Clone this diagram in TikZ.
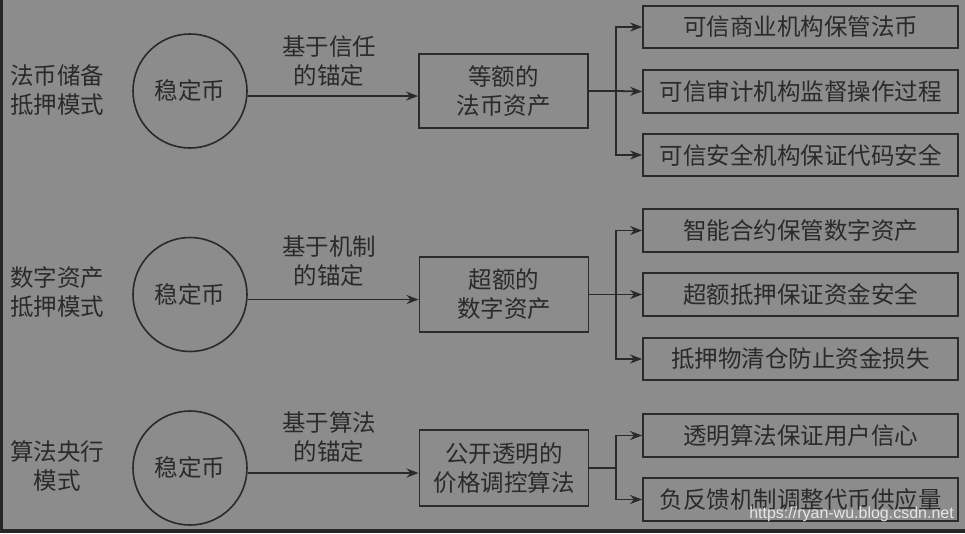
\documentclass[tikz,border=0pt]{standalone}
\usepackage{fontspec}
\setmainfont{Noto Sans CJK SC}
\newfontfamily\latinsans{Liberation Sans}
\usetikzlibrary{arrows.meta}

\definecolor{bggray}{HTML}{8C8C8C}
\definecolor{ink}{HTML}{2A2A2A}
\definecolor{edge}{HTML}{262626}
\definecolor{mark}{HTML}{E6E6E6}

\tikzset{
  txt/.style={text=ink, font=\fontsize{23.5}{29}\selectfont, align=center, inner sep=0pt},
  coin/.style={txt, circle, draw=ink, line width=1.6pt, minimum size=114pt},
  midbox/.style={txt, rectangle, draw=ink, line width=1.8pt, minimum width=169pt},
  leafbox/.style={txt, rectangle, draw=ink, line width=1.8pt, minimum width=315pt},
  link/.style={draw=ink, line width=1.8pt},
  arr/.style={link, -{Stealth[length=12pt, width=9pt]}}
}

\begin{document}
\begin{tikzpicture}[x=1pt, y=-1pt]
  % page and dark frame strips
  \fill[bggray] (0,0) rectangle (965,533);
  \fill[edge] (0,0) rectangle (3,533);
  \fill[edge] (0,529) rectangle (965,533);
  \useasboundingbox (0,0) rectangle (965,533);

  % ---- fiat reserve mode ----
  \node[txt] (lab1) at (57,90) {法币储备\\抵押模式};
  \node[coin] (c1) at (190,91) {稳定币};
  \node[txt] (t1) at (329,61) {基于信任\\的锚定};
  \node[midbox, minimum height=74pt] (b1) at (503.5,91) {等额的\\法币资产};
  \node[leafbox, minimum height=42pt] (r11) at (800.5,27) {可信商业机构保管法币};
  \node[leafbox, minimum height=43pt] (r12) at (800.5,91.5) {可信审计机构监督操作过程};
  \node[leafbox, minimum height=42pt] (r13) at (800.5,155) {可信安全机构保证代码安全};
  \coordinate (j1) at (616,91);
  \draw[arr] (c1.-5) -- (b1.west |- c1.-5);
  \draw[link] (b1.east) -- (j1);
  \draw[arr] (j1) |- (r11.west);
  \draw[arr] (j1) -- (r12.west);
  \draw[arr] (j1) |- (r13.west);

  % ---- digital asset mode ----
  \node[txt] (lab2) at (57,292) {数字资产\\抵押模式};
  \node[coin] (c2) at (190,294.5) {稳定币};
  \node[txt] (t2) at (329,261) {基于机制\\的锚定};
  \node[midbox, minimum height=75pt] (b2) at (504,294.5) {超额的\\数字资产};
  \node[leafbox, minimum height=43pt] (r21) at (800.5,230.5) {智能合约保管数字资产};
  \node[leafbox, minimum height=43pt] (r22) at (800.5,294.5) {超额抵押保证资金安全};
  \node[leafbox, minimum height=42pt] (r23) at (800.5,359) {抵押物清仓防止资金损失};
  \coordinate (j2) at (616,294.5);
  \draw[arr] (c2.-5) -- (b2.west |- c2.-5);
  \draw[link] (b2.east) -- (j2);
  \draw[arr] (j2) |- (r21.west);
  \draw[arr] (j2) -- (r22.west);
  \draw[arr] (j2) |- (r23.west);

  % ---- algorithmic central bank mode ----
  \node[txt] (lab3) at (57,466) {算法央行\\模式};
  \node[coin] (c3) at (190,468) {稳定币};
  \node[txt] (t3) at (329,437) {基于算法\\的锚定};
  \node[midbox, minimum height=76pt] (b3) at (504,468) {公开透明的\\价格调控算法};
  \node[leafbox, minimum height=43pt] (r31) at (800.5,435.5) {透明算法保证用户信心};
  \node[leafbox, minimum height=43pt] (r32) at (800.5,499.5) {负反馈机制调整代币供应量};
  \coordinate (j3) at (616,468);
  \draw[arr] (c3.-5) -- (b3.west |- c3.-5);
  \draw[link] (b3.east) -- (j3);
  \draw[arr] (j3) |- (r31.west);
  \draw[arr] (j3) |- (r32.west);

  % blog address
  \node[anchor=base east, inner sep=0pt, text=mark, font=\latinsans\fontsize{16}{18}\selectfont] (url) at (954,518) {https://ryan-wu.blog.csdn.net};
\end{tikzpicture}
\end{document}
